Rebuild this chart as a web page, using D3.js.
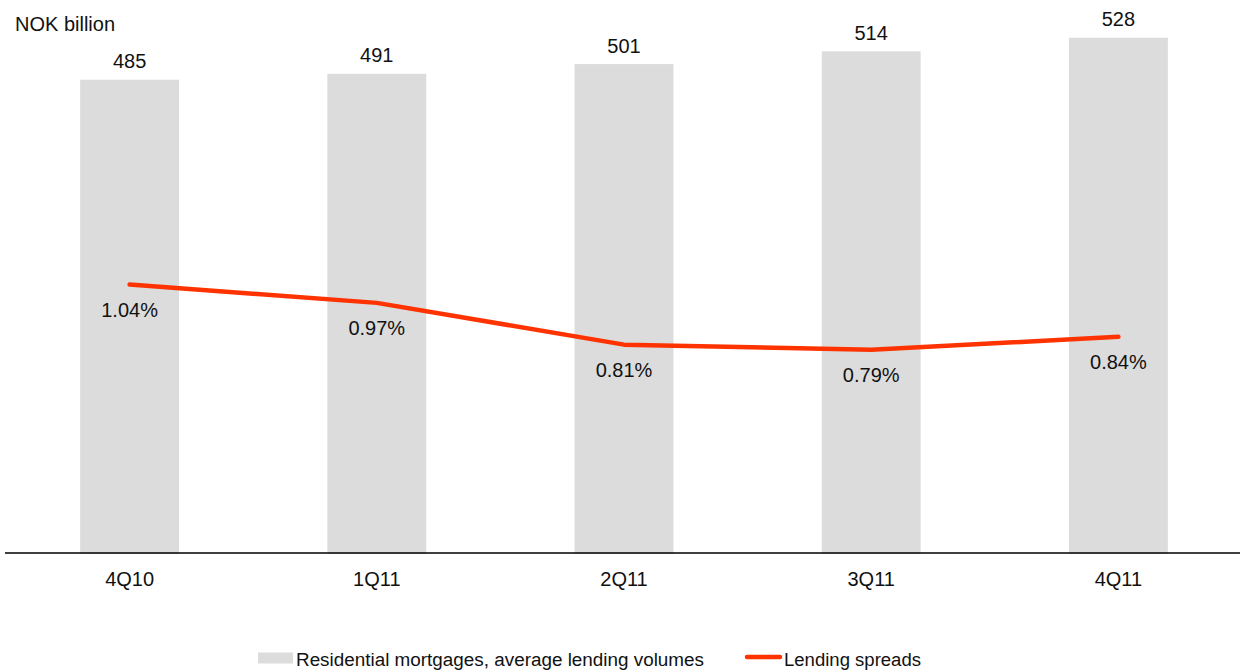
<!DOCTYPE html>
<html>
<head>
<meta charset="utf-8">
<script src="https://cdn.jsdelivr.net/npm/d3@7"></script>
<style>
  html, body { margin: 0; padding: 0; background: #fff; }
  svg { display: block; font-family: "Liberation Sans", Arial, sans-serif; }
</style>
</head>
<body>
<svg id="chart" width="1240" height="671"></svg>
<script>
// Quarterly residential mortgage volumes (NOK billion) and lending spreads (%)
const quarters = ["4Q10", "1Q11", "2Q11", "3Q11", "4Q11"];
const volumes = [485, 491, 501, 514, 528];
const spreads = [1.04, 0.97, 0.81, 0.79, 0.84];
const volumeLabels = ["485", "491", "501", "514", "528"];
const spreadLabels = ["1.04%", "0.97%", "0.81%", "0.79%", "0.84%"];
const legendNames = ["Residential mortgages, average lending volumes", "Lending spreads"];

const barColor = "#DCDCDC";
const lineColor = "#FF3300";

const svg = d3.select("#chart");

const baseY = 553;

const x = d3.scaleBand()
  .domain(quarters)
  .range([6, 1242])
  .paddingInner(0.6)
  .paddingOuter(0.3);

const yVol = d3.scaleLinear().domain([0, 560]).range([baseY, 6.5]);
const ySpread = d3.scaleLinear().domain([0, 2.1]).range([556, 8]);

// Unit title
svg.append("text")
  .attr("x", 15).attr("y", 31)
  .attr("font-size", 20)
  .attr("fill", "#111")
  .text("NOK billion");

// Volume bars
svg.append("g").selectAll("rect")
  .data(volumes)
  .join("rect")
  .attr("x", (d, i) => x(quarters[i]))
  .attr("width", x.bandwidth())
  .attr("y", d => yVol(d))
  .attr("height", d => yVol(0) - yVol(d) + 1)
  .attr("fill", barColor);

// Bar value labels
svg.append("g").selectAll("text")
  .data(volumes)
  .join("text")
  .attr("x", (d, i) => x(quarters[i]) + x.bandwidth() / 2)
  .attr("y", d => yVol(d) - 11.5)
  .attr("text-anchor", "middle")
  .attr("font-size", 20)
  .attr("fill", "#111")
  .text((d, i) => volumeLabels[i]);

// Category axis
const xAxis = d3.axisBottom(x).tickSize(0).tickPadding(0);
const gx = svg.append("g")
  .attr("transform", `translate(0,${baseY})`)
  .call(xAxis);
gx.select(".domain").remove();
gx.selectAll("text")
  .attr("font-family", "Liberation Sans, Arial, sans-serif")
  .attr("font-size", 20)
  .attr("fill", "#111")
  .attr("dy", null)
  .attr("y", 33);

svg.append("line")
  .attr("x1", 5).attr("x2", 1240)
  .attr("y1", baseY).attr("y2", baseY)
  .attr("stroke", "#000")
  .attr("stroke-width", 1.3);

// Spread line
const line = d3.line()
  .x((d, i) => x(quarters[i]) + x.bandwidth() / 2)
  .y(d => ySpread(d));

svg.append("path")
  .datum(spreads)
  .attr("d", line)
  .attr("fill", "none")
  .attr("stroke", lineColor)
  .attr("stroke-width", 4.5)
  .attr("stroke-linecap", "round")
  .attr("stroke-linejoin", "round");

// Spread labels
svg.append("g").selectAll("text")
  .data(spreads)
  .join("text")
  .attr("x", (d, i) => x(quarters[i]) + x.bandwidth() / 2)
  .attr("y", d => ySpread(d) + 32)
  .attr("text-anchor", "middle")
  .attr("font-size", 20)
  .attr("fill", "#111")
  .text((d, i) => spreadLabels[i]);

// Legend
const legend = svg.append("g");
legend.append("rect")
  .attr("x", 258).attr("y", 652.5)
  .attr("width", 35).attr("height", 11)
  .attr("fill", barColor);
legend.append("text")
  .attr("x", 296).attr("y", 665.5)
  .attr("font-size", 18)
  .attr("fill", "#111")
  .attr("textLength", 408)
  .attr("lengthAdjust", "spacingAndGlyphs")
  .text(legendNames[0]);
legend.append("line")
  .attr("x1", 747).attr("x2", 780)
  .attr("y1", 657).attr("y2", 657)
  .attr("stroke", lineColor)
  .attr("stroke-width", 4.5)
  .attr("stroke-linecap", "round");
legend.append("text")
  .attr("x", 784).attr("y", 665.5)
  .attr("font-size", 18)
  .attr("fill", "#111")
  .attr("textLength", 137)
  .attr("lengthAdjust", "spacingAndGlyphs")
  .text(legendNames[1]);
</script>
</body>
</html>
